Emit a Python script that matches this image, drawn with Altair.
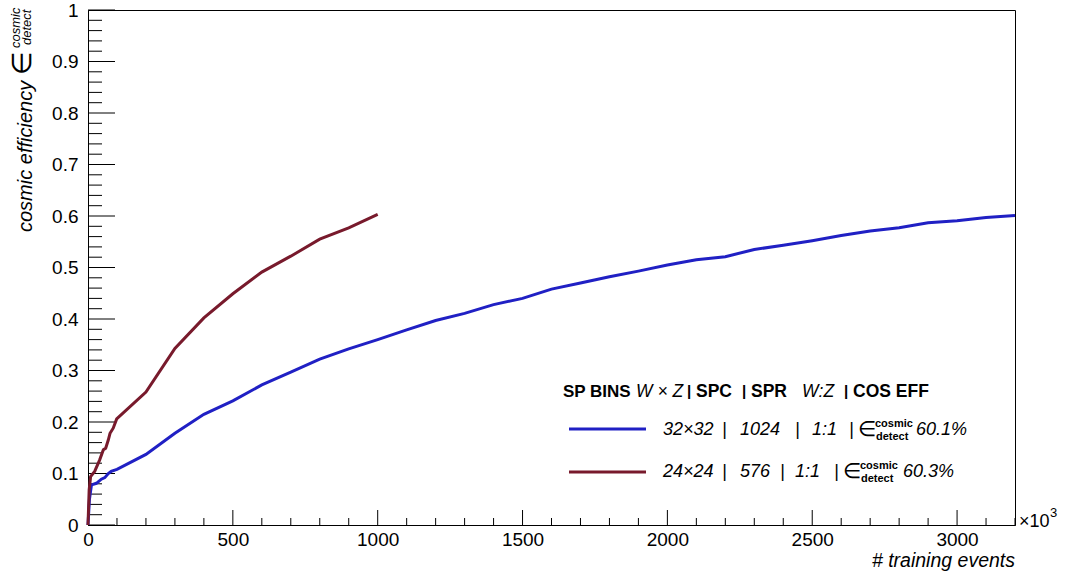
import altair as alt
import pandas as pd
import numpy as np

# ---- data (x in units of 10^3 training events) ----
blue_x = [0, 5, 12, 29, 46, 58, 70, 80, 100, 200, 300, 400, 500, 600, 700, 800, 900, 1000,
          1100, 1200, 1300, 1400, 1500, 1600, 1700, 1800, 1900, 2000, 2100, 2200, 2300, 2400,
          2500, 2600, 2700, 2800, 2900, 3000, 3100, 3200]
blue_y = [0, 0.050, 0.078, 0.081, 0.089, 0.092, 0.100, 0.104, 0.108, 0.137, 0.178, 0.215, 0.241,
          0.272, 0.297, 0.322, 0.342, 0.360, 0.379, 0.397, 0.411, 0.428, 0.440, 0.458, 0.470,
          0.482, 0.493, 0.505, 0.515, 0.521, 0.535, 0.543, 0.552, 0.562, 0.571, 0.577, 0.587,
          0.591, 0.597, 0.601]
red_x = [0, 4, 9, 23, 40, 53, 61, 70, 76, 87, 99, 200, 300, 400, 500, 600, 700, 800, 900, 1000]
red_y = [0, 0.068, 0.094, 0.104, 0.126, 0.146, 0.149, 0.165, 0.178, 0.188, 0.206, 0.258, 0.343,
         0.402, 0.449, 0.491, 0.522, 0.555, 0.577, 0.603]

x_label_values = [0, 500, 1000, 1500, 2000, 2500, 3000]
y_label_values = [0, 0.1, 0.2, 0.3, 0.4, 0.5, 0.6, 0.7, 0.8, 0.9, 1.0]
x_major_ticks = [0, 500, 1000, 1500, 2000, 2500, 3000]
x_minor_ticks = [v for v in range(0, 3201, 100) if v % 500 != 0]
y_major_ticks = y_label_values
y_minor_ticks = [round(v * 0.02, 2) for v in range(0, 51) if v % 5 != 0]

BLUE = "#2020c4"
RED = "#781a2c"
FONT = "Liberation Sans"
W, H = 927, 515
LEFT, TOP = 88, 10

xs = alt.Scale(domain=[0, 3200], nice=False, zero=False)
ys = alt.Scale(domain=[0, 1], nice=False, zero=False)
xaxis = alt.Axis(values=x_label_values, ticks=False, grid=False, title=None, labelFont=FONT,
                 labelFontSize=19, labelColor="black", labelPadding=5, domainColor="black",
                 format="d", labelFlush=False, labelOverlap=False)
yaxis = alt.Axis(values=y_label_values, ticks=False, grid=False, title=None, labelFont=FONT,
                 labelFontSize=19, labelColor="black", labelPadding=10, domainColor="black",
                 format=".1~f", labelFlush=False, labelOverlap=False)
X = alt.X("x:Q", scale=xs, axis=xaxis)
Y = alt.Y("y:Q", scale=ys, axis=yaxis)

blue_df = pd.DataFrame({"x": blue_x, "y": blue_y})
red_df = pd.DataFrame({"x": red_x, "y": red_y})

blue_line = alt.Chart(blue_df).mark_line(color=BLUE, strokeWidth=3).encode(x=X, y=Y)
red_line = alt.Chart(red_df).mark_line(color=RED, strokeWidth=3).encode(x=X, y=Y)

ymaj = alt.Chart(pd.DataFrame({"y": y_major_ticks})).mark_rule(color="black", strokeWidth=1).encode(
    y=Y, x=alt.value(0), x2=alt.value(27))
ymin = alt.Chart(pd.DataFrame({"y": y_minor_ticks})).mark_rule(color="black", strokeWidth=1).encode(
    y=Y, x=alt.value(0), x2=alt.value(14))
xmaj = alt.Chart(pd.DataFrame({"x": x_major_ticks})).mark_rule(color="black", strokeWidth=1).encode(
    x=X, y=alt.value(H), y2=alt.value(H - 15))
xmin = alt.Chart(pd.DataFrame({"x": x_minor_ticks})).mark_rule(color="black", strokeWidth=1).encode(
    x=X, y=alt.value(H), y2=alt.value(H - 7))

dummy = pd.DataFrame({"d": [0]})


def txt(s, X0, Y0, size, style="normal", weight="normal", align="left", baseline="alphabetic",
        angle=0, font=FONT):
    kw = dict(text=s, fontSize=size, fontStyle=style, fontWeight=weight, align=align,
              baseline=baseline, font=font, color="black")
    if angle:
        kw["angle"] = angle
    return alt.Chart(dummy).mark_text(**kw).encode(x=alt.value(X0 - LEFT), y=alt.value(Y0 - TOP))


def hline(color, x1, x2, yy):
    return alt.Chart(dummy).mark_rule(color=color, strokeWidth=3).encode(
        x=alt.value(x1 - LEFT), x2=alt.value(x2 - LEFT), y=alt.value(yy - TOP))


texts = [
    # y-axis title
    txt("cosmic efficiency", 32, 232, 20, style="italic", angle=270),
    txt("∈", 31, 75, 27, angle=270),
    txt("cosmic", 20, 48, 13, style="italic", angle=270),
    txt("detect", 31, 45, 13, style="italic", angle=270),
    # x-axis title & multiplier
    txt("# training events", 1015, 567, 19.5, style="italic", align="right"),
    txt("×10", 1019, 527, 18),
    txt("3", 1050, 517, 13),
    # legend header
    txt("SP BINS", 563, 397, 17, weight="bold"),
    txt("W × Z", 636, 397, 17.5, style="italic"),
    txt("|", 687, 396, 15, weight="bold"),
    txt("SPC", 696, 397, 17.5, weight="bold"),
    txt("|", 742, 396, 15, weight="bold"),
    txt("SPR", 751, 397, 17.5, weight="bold"),
    txt("W:Z", 802, 397, 17.5, style="italic"),
    txt("|", 844, 396, 15, weight="bold"),
    txt("COS EFF", 853, 397, 17.5, weight="bold"),
]

rows = [
    (435, ["32×32", "|", "1024", "|", "1:1", "|"], [663, 722, 740, 795, 812, 849], 858, 875, "60.1%", 916),
    (477, ["24×24", "|", "576", "|", "1:1", "|"], [663, 722, 740, 780, 795, 834], 843, 860, "60.3%", 903),
]
for base, words, xs_, xe, xsup, pct, xp in rows:
    for w_, x_ in zip(words, xs_):
        texts.append(txt(w_, x_, base, 18, style="italic"))
    texts.append(txt("∈", xe, base + 1, 21))
    texts.append(txt("cosmic", xsup, base - 8, 11, weight="bold"))
    texts.append(txt("detect", xsup + 1, base + 5, 11, weight="bold"))
    texts.append(txt(pct, xp, base, 18, style="italic"))

legend_lines = [hline(BLUE, 569, 646, 429), hline(RED, 569, 646, 472)]

chart = alt.layer(
    ymin, ymaj, xmin, xmaj, blue_line, red_line, *legend_lines, *texts
).properties(
    width=W, height=H,
    padding={"left": LEFT, "top": TOP, "right": 1067 - LEFT - W, "bottom": 576 - TOP - H},
    autosize=alt.AutoSizeParams(type="none"),
    background="white",
).configure_view(stroke="black", strokeWidth=1)

chart.save("out.html", embed_options={"renderer": "svg", "actions": False})
